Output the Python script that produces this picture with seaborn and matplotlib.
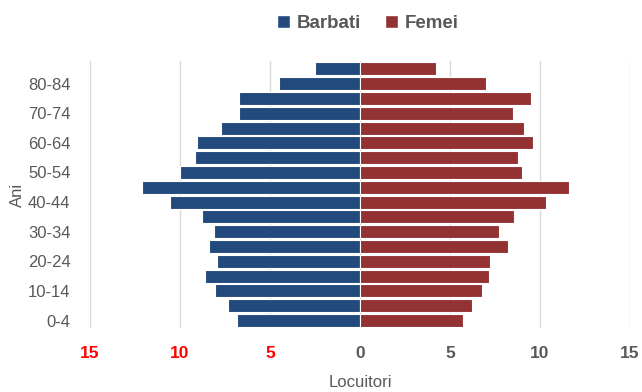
import matplotlib
matplotlib.use("Agg")
import matplotlib.pyplot as plt
import seaborn as sns
import pandas as pd
from matplotlib.patches import Patch

# Age groups, top of the pyramid first
age_groups = ["85+", "80-84", "75-79", "70-74", "65-69", "60-64", "55-59", "50-54",
              "45-49", "40-44", "35-39", "30-34", "25-29", "20-24", "15-19",
              "10-14", "5-9", "0-4"]
barbati = [2.5, 4.5, 6.7, 6.7, 7.7, 9.05, 9.15, 10.0, 12.1, 10.55, 8.8, 8.1,
           8.4, 7.95, 8.6, 8.05, 7.35, 6.85]
femei = [4.25, 7.0, 9.5, 8.5, 9.1, 9.6, 8.8, 9.0, 11.6, 10.35, 8.55, 7.7,
         8.25, 7.25, 7.15, 6.8, 6.2, 5.75]
x_ticks = [-15, -10, -5, 0, 5, 10, 15]
x_tick_labels = ["15", "10", "5", "0", "5", "10", "15"]

blue = "#224A7C"
red = "#923232"
gray = "#595959"

df = pd.concat([
    pd.DataFrame({"Ani": age_groups, "Locuitori": [-v for v in barbati], "Sex": "Barbati"}),
    pd.DataFrame({"Ani": age_groups, "Locuitori": femei, "Sex": "Femei"}),
])

sns.set_theme(style="white")
plt.rcParams["font.family"] = ["Liberation Sans", "DejaVu Sans"]

fig = plt.figure(figsize=(6.42, 3.92), dpi=100)
ax = fig.add_axes([0.1402, 0.1633, 0.8411, 0.680])

sns.barplot(data=df, x="Locuitori", y="Ani", hue="Sex", order=age_groups,
            orient="h", dodge=False, palette={"Barbati": blue, "Femei": red},
            width=0.88, edgecolor="white", linewidth=0.8, saturation=1,
            legend=False, ax=ax)

ax.set_xlim(-15, 15)
ax.set_ylim(len(age_groups) - 0.5, -0.5)
ax.set_xticks(x_ticks)
ax.set_xticklabels(x_tick_labels, fontweight="bold", fontsize=12.5)
for lbl, t in zip(ax.get_xticklabels(), x_ticks):
    lbl.set_color("#FF0000" if t < 0 else gray)

ax.set_yticks(range(len(age_groups)))
ax.set_yticklabels([a if i % 2 == 1 else "" for i, a in enumerate(age_groups)],
                   fontsize=12, color=gray)
ax.tick_params(axis="x", length=0, pad=13)
ax.tick_params(axis="y", length=0, pad=14)

ax.grid(axis="x", color="#D9D9D9", linewidth=1)
ax.set_axisbelow(True)
for s in ax.spines.values():
    s.set_visible(False)

ax.set_xlabel("Locuitori", fontsize=12, color=gray, labelpad=10)
ax.set_ylabel("Ani", fontsize=12, color=gray, labelpad=2)

handles = [Patch(facecolor=blue, label="Barbati"), Patch(facecolor=red, label="Femei")]
leg = fig.legend(handles=handles, loc="center", bbox_to_anchor=(0.573, 0.94), ncol=2,
                 frameon=False, handlelength=0.7, handleheight=0.7, handletextpad=0.35,
                 columnspacing=1.3, prop={"weight": "bold", "size": 13.5})
for t in leg.get_texts():
    t.set_color(gray)

fig.savefig("out.png", dpi=100)
